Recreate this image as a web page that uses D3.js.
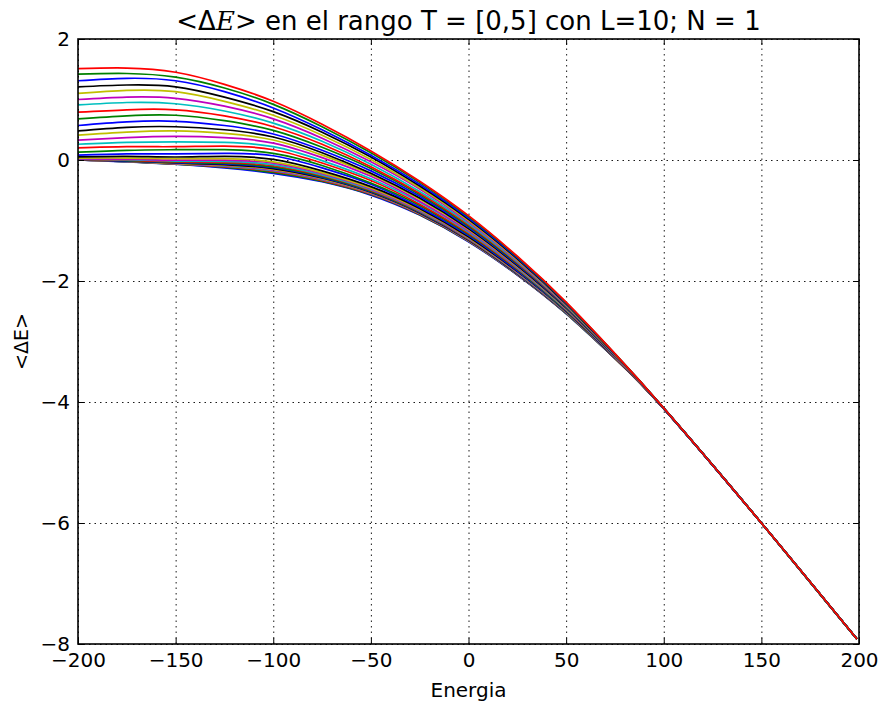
<!DOCTYPE html>
<html>
<head>
<meta charset="utf-8">
<script src="https://cdn.jsdelivr.net/npm/d3@7"></script>
<style>
  body { margin: 0; background: #fff; }
  svg { display: block; font-family: "DejaVu Sans", sans-serif; }
</style>
</head>
<body>
<svg id="chart" width="883" height="706"></svg>
<script>
// energy samples
const energia = [-200, -175, -150, -125, -100, -75, -50, -25, 0, 25, 50, 75, 100, 150, 199];

// <dE> per curve, first one plotted (lowest T) to last one (T = 5)
const deltaE = [
  [0.0, -0.03, -0.07, -0.13, -0.22, -0.36, -0.58, -0.91, -1.35, -1.90, -2.54, -3.28, -4.11, -6.0, -7.92],
  [0.0, -0.029, -0.068, -0.120, -0.205, -0.348, -0.571, -0.903, -1.344, -1.896, -2.538, -3.279, -4.11, -6.0, -7.92],
  [0.0, -0.028, -0.065, -0.111, -0.190, -0.336, -0.562, -0.896, -1.339, -1.892, -2.535, -3.278, -4.11, -6.0, -7.92],
  [0.0, -0.026, -0.062, -0.102, -0.178, -0.327, -0.554, -0.890, -1.335, -1.889, -2.533, -3.277, -4.11, -6.0, -7.92],
  [0.002, -0.024, -0.059, -0.094, -0.166, -0.317, -0.547, -0.885, -1.331, -1.886, -2.531, -3.276, -4.11, -6.0, -7.92],
  [0.003, -0.021, -0.055, -0.085, -0.155, -0.308, -0.540, -0.879, -1.326, -1.883, -2.530, -3.276, -4.11, -6.0, -7.92],
  [0.005, -0.018, -0.050, -0.076, -0.143, -0.298, -0.533, -0.874, -1.322, -1.880, -2.528, -3.275, -4.109, -6.0, -7.92],
  [0.006, -0.014, -0.044, -0.064, -0.127, -0.286, -0.523, -0.866, -1.316, -1.876, -2.525, -3.274, -4.109, -6.0, -7.92],
  [0.008, -0.009, -0.037, -0.053, -0.113, -0.274, -0.514, -0.860, -1.311, -1.872, -2.523, -3.273, -4.109, -6.0, -7.92],
  [0.011, -0.003, -0.027, -0.038, -0.095, -0.260, -0.503, -0.851, -1.305, -1.867, -2.520, -3.272, -4.109, -6.0, -7.92],
  [0.015, 0.005, -0.017, -0.023, -0.077, -0.246, -0.492, -0.843, -1.298, -1.863, -2.517, -3.270, -4.109, -6.0, -7.92],
  [0.020, 0.015, -0.002, -0.002, -0.053, -0.227, -0.478, -0.832, -1.290, -1.857, -2.513, -3.269, -4.109, -6.0, -7.92],
  [0.030, 0.032, 0.021, 0.022, -0.030, -0.208, -0.463, -0.820, -1.281, -1.850, -2.510, -3.267, -4.108, -6.0, -7.92],
  [0.05, 0.06, 0.05, 0.06, 0.01, -0.18, -0.44, -0.80, -1.27, -1.84, -2.50, -3.265, -4.108, -6.0, -7.92],
  [0.08, 0.10, 0.10, 0.11, 0.07, -0.13, -0.40, -0.78, -1.25, -1.83, -2.494, -3.261, -4.108, -6.0, -7.92],
  [0.13, 0.16, 0.17, 0.17, 0.11, -0.09, -0.38, -0.75, -1.23, -1.81, -2.487, -3.258, -4.107, -6.0, -7.92],
  [0.20, 0.22, 0.22, 0.23, 0.17, -0.05, -0.34, -0.73, -1.21, -1.80, -2.477, -3.254, -4.107, -6.0, -7.92],
  [0.26, 0.29, 0.30, 0.29, 0.22, -0.01, -0.31, -0.70, -1.19, -1.785, -2.47, -3.25, -4.106, -6.0, -7.92],
  [0.33, 0.37, 0.39, 0.37, 0.28, 0.04, -0.27, -0.68, -1.17, -1.77, -2.46, -3.246, -4.106, -6.0, -7.92],
  [0.41, 0.46, 0.48, 0.44, 0.33, 0.08, -0.24, -0.65, -1.15, -1.757, -2.453, -3.243, -4.105, -6.0, -7.92],
  [0.48, 0.54, 0.55, 0.50, 0.38, 0.12, -0.22, -0.63, -1.135, -1.745, -2.445, -3.24, -4.105, -6.0, -7.92],
  [0.57, 0.63, 0.64, 0.57, 0.43, 0.16, -0.18, -0.60, -1.113, -1.729, -2.435, -3.236, -4.105, -6.0, -7.92],
  [0.68, 0.73, 0.74, 0.65, 0.49, 0.21, -0.14, -0.57, -1.092, -1.714, -2.426, -3.232, -4.104, -6.0, -7.92],
  [0.79, 0.83, 0.83, 0.73, 0.55, 0.26, -0.11, -0.55, -1.07, -1.698, -2.416, -3.228, -4.103, -6.0, -7.92],
  [0.91, 0.95, 0.93, 0.81, 0.61, 0.31, -0.07, -0.52, -1.049, -1.683, -2.407, -3.224, -4.103, -6.0, -7.92],
  [1.00, 1.04, 1.02, 0.89, 0.68, 0.36, -0.03, -0.48, -1.023, -1.664, -2.396, -3.219, -4.102, -6.0, -7.92],
  [1.10, 1.15, 1.13, 0.97, 0.74, 0.41, 0.01, -0.46, -1.002, -1.649, -2.386, -3.215, -4.102, -6.0, -7.92],
  [1.21, 1.24, 1.21, 1.04, 0.80, 0.46, 0.05, -0.43, -0.98, -1.633, -2.377, -3.211, -4.101, -6.0, -7.92],
  [1.31, 1.35, 1.31, 1.13, 0.86, 0.50, 0.08, -0.40, -0.959, -1.618, -2.367, -3.207, -4.101, -6.0, -7.92],
  [1.42, 1.43, 1.37, 1.19, 0.92, 0.55, 0.12, -0.37, -0.937, -1.602, -2.358, -3.203, -4.10, -6.0, -7.92],
  [1.51, 1.52, 1.45, 1.25, 0.97, 0.59, 0.15, -0.35, -0.92, -1.59, -2.35, -3.20, -4.10, -6.0, -7.92]
];

const xTicks = [-200, -150, -100, -50, 0, 50, 100, 150, 200];
const yTicks = [-8, -6, -4, -2, 0, 2];
// matplotlib classic colour cycle b g r c m y k
const colores = ['#0000ff', '#008000', '#ff0000', '#00bfbf', '#bf00bf', '#bfbf00', '#000000'];

const margin = {top: 39, right: 24, bottom: 62, left: 78};
const width = 883 - margin.left - margin.right;
const height = 706 - margin.top - margin.bottom;

const svg = d3.select('#chart');
svg.append('rect').attr('width', 883).attr('height', 706).attr('fill', '#fff');

const g = svg.append('g').attr('transform', `translate(${margin.left},${margin.top})`);

const x = d3.scaleLinear().domain([-200, 200]).range([0, width]);
const y = d3.scaleLinear().domain([-8, 2]).range([height, 0]);

const fmt = d => d < 0 ? '\u2212' + Math.abs(d) : String(d);

//dotted grid
g.append('g').attr('class', 'grid')
  .attr('transform', `translate(0,${height})`)
  .call(d3.axisBottom(x).tickValues(xTicks).tickSize(-height).tickFormat(''));
g.append('g').attr('class', 'grid')
  .call(d3.axisLeft(y).tickValues(yTicks).tickSize(-width).tickFormat(''));
g.selectAll('.grid .domain').remove();
g.selectAll('.grid line')
  .attr('stroke', '#000').attr('stroke-width', 0.9).attr('stroke-dasharray', '1.5,4');

//curves
g.append('clipPath').attr('id', 'clip')
  .append('rect').attr('width', width).attr('height', height);

const line = d3.line()
  .x((d, i) => x(energia[i]))
  .y(d => y(d))
  .curve(d3.curveNatural);

g.append('g').attr('clip-path', 'url(#clip)')
  .selectAll('path')
  .data(deltaE)
  .join('path')
  .attr('d', line)
  .attr('fill', 'none')
  .attr('stroke', (d, i) => colores[i % colores.length])
  .attr('stroke-width', 1.7);

//axes with inward ticks on all four sides
const axB = g.append('g').attr('transform', `translate(0,${height})`)
  .call(d3.axisBottom(x).tickValues(xTicks).tickSizeInner(-6).tickSizeOuter(0).tickPadding(9).tickFormat(fmt));
const axL = g.append('g')
  .call(d3.axisLeft(y).tickValues(yTicks).tickSizeInner(-6).tickSizeOuter(0).tickPadding(8).tickFormat(fmt));
const axT = g.append('g')
  .call(d3.axisTop(x).tickValues(xTicks).tickSizeInner(-6).tickSizeOuter(0).tickFormat(''));
const axR = g.append('g').attr('transform', `translate(${width},0)`)
  .call(d3.axisRight(y).tickValues(yTicks).tickSizeInner(-6).tickSizeOuter(0).tickFormat(''));

[axB, axL, axT, axR].forEach(a => {
  a.select('.domain').remove();
  a.selectAll('line').attr('stroke', '#000').attr('stroke-width', 1);
  a.selectAll('text').attr('fill', '#000')
    .style('font-family', '"DejaVu Sans", sans-serif').style('font-size', '20px');
});

g.append('rect').attr('width', width).attr('height', height)
  .attr('fill', 'none').attr('stroke', '#000').attr('stroke-width', 1.6);

//labels
svg.append('text').attr('x', margin.left + width / 2).attr('y', 697)
  .attr('text-anchor', 'middle').style('font-size', '20px').text('Energia');

svg.append('text')
  .attr('transform', `translate(28,${margin.top + height / 2}) rotate(-90)`)
  .attr('text-anchor', 'middle').style('font-size', '19px').text('<\u0394E>');

const title = svg.append('text').attr('x', margin.left + width / 2).attr('y', 30)
  .attr('text-anchor', 'middle').style('font-size', '26px');
title.append('tspan').text('<\u0394');
title.append('tspan').style('font-family', '"DejaVu Serif", serif').style('font-style', 'italic').text('E');
title.append('tspan').text('> en el rango T = [0,5] con L=10; N = 1');
</script>
</body>
</html>
